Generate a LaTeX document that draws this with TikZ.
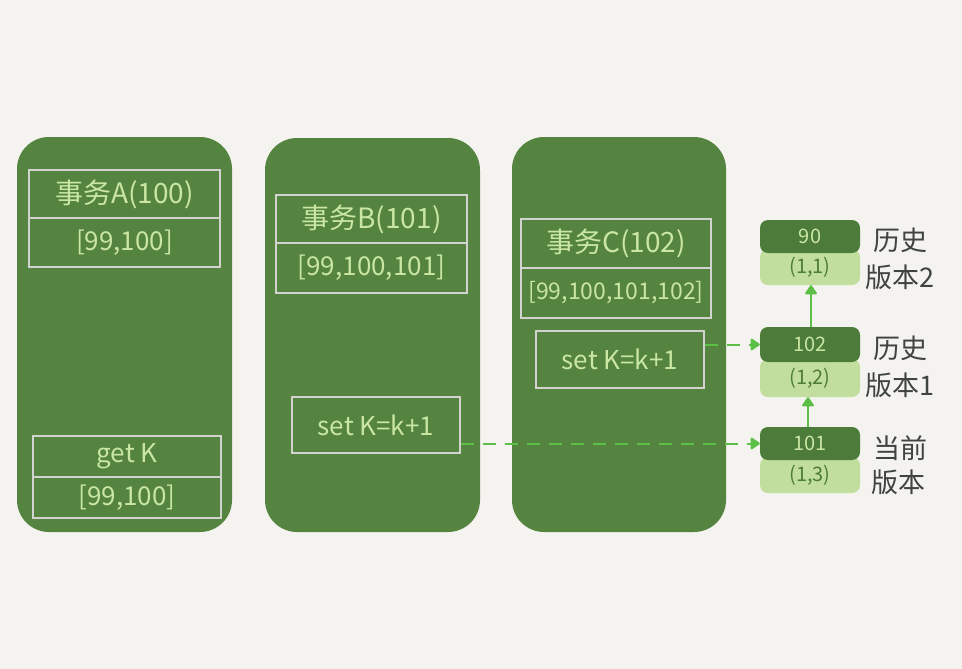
\documentclass[tikz,border=0pt]{standalone}
\usepackage{fontspec}
\setmainfont{Noto Sans CJK SC}
\usetikzlibrary{arrows.meta}
\definecolor{bg}{HTML}{F4F3EF}
\definecolor{panel}{HTML}{558340}
\definecolor{dk}{HTML}{4C7B3A}
\definecolor{lt}{HTML}{C2DE9E}
\definecolor{txt}{HTML}{C9E6A2}
\definecolor{edge}{HTML}{D2D2CE}
\definecolor{arr}{HTML}{5CBF46}
\definecolor{lab}{HTML}{3F4441}
\tikzset{
  panelbox/.style={fill=panel, rounded corners=32pt},
  cell/.style={draw=edge, line width=1.4pt, inner sep=0pt, text=txt, font=\fontsize{26}{28}\selectfont},
  hcell/.style={cell, font=\fontsize{28}{30}\selectfont},
  dkbox/.style={fill=dk, rounded corners=8pt, minimum width=100pt, inner sep=0pt, text=txt, font=\fontsize{20}{22}\selectfont},
  ltbox/.style={fill=lt, rounded corners=8pt, minimum width=100pt, inner sep=0pt, text=dk, font=\fontsize{20}{22}\selectfont},
  vlabel/.style={text=lab, font=\fontsize{27}{29}\selectfont},
  flow/.style={draw=arr, line width=2pt, -{Triangle[round,length=10pt,width=13pt]}},
  dflow/.style={flow, dash pattern=on 13pt off 9pt},
}
\begin{document}
\begin{tikzpicture}[x=1pt,y=-1pt]
\fill[bg] (0,0) rectangle (962,669);
\useasboundingbox (0,0) rectangle (962,669);

% panels
\fill[panelbox] (17,137) rectangle (232,532);
\fill[panelbox] (265,138) rectangle (480,532);
\fill[panelbox] (512,137) rectangle (726,532);

% transaction A
\node[hcell, minimum width=191pt, minimum height=48pt] (ah) at (124.5,194) {事务A(100)};
\node[cell, minimum width=191pt, minimum height=49pt] (av) at (124.5,242.5) {[99,100]};
\node[cell, minimum width=188pt, minimum height=41pt] (ag) at (127,456.5) {get K};
\node[cell, minimum width=188pt, minimum height=41pt] (agv) at (127,497.5) {[99,100]};

% transaction B
\node[hcell, minimum width=191pt, minimum height=48pt] (bh) at (371.5,219) {事务B(101)};
\node[cell, minimum width=191pt, minimum height=50pt] (bv) at (371.5,268) {[99,100,101]};
\node[cell, minimum width=168pt, minimum height=56pt] (bset) at (376,425) {set K=k+1};

% transaction C
\node[hcell, minimum width=190pt, minimum height=49pt] (ch) at (616,243.5) {事务C(102)};
\node[cell, minimum width=190pt, minimum height=50pt, font=\fontsize{23}{25}\selectfont] (cv) at (616,293) {[99,100,101,102]};
\node[cell, minimum width=168pt, minimum height=57pt] (cset) at (620,359.5) {set K=k+1};

% version stack
\node[ltbox, minimum height=36pt] (l90) at (810,267) {(1,1)};
\node[dkbox, minimum height=33pt] (d90) at (810,236.5) {90};
\node[ltbox, minimum height=38pt] (l102) at (810,378) {(1,2)};
\node[dkbox, minimum height=35pt] (d102) at (810,344.5) {102};
\node[ltbox, minimum height=36pt] (l101) at (810,475) {(1,3)};
\node[dkbox, minimum height=33pt] (d101) at (810,443.5) {101};

% labels
\node[vlabel] (t1a) at (900,240) {历史};
\node[vlabel] (t1b) at (900,277) {版本2};
\node[vlabel] (t2a) at (900,348) {历史};
\node[vlabel] (t2b) at (900,385) {版本1};
\node[vlabel] (t3a) at (900,448) {当前};
\node[vlabel] (t3b) at (898,482) {版本};

% connectors
\draw[flow] ([xshift=-2pt]d101.north) -- ([xshift=-2pt]l102.south);
\draw[flow] ([xshift=1pt]d102.north) -- ([xshift=1pt]l90.south);
\draw[dflow] (cset.east |- d102.west) -- (d102.west);
\draw[dflow] (bset.east |- d101.west) -- (d101.west);
\end{tikzpicture}
\end{document}
